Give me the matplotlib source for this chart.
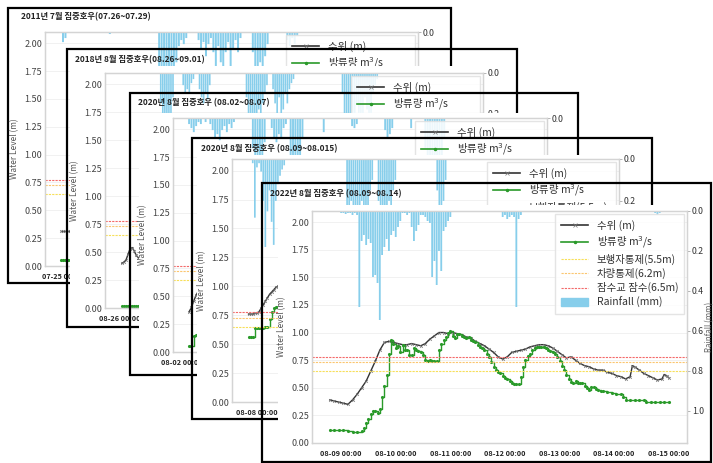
import numpy as np
import matplotlib
matplotlib.use('Agg')
import matplotlib.pyplot as plt
import matplotlib.dates as mdates
from matplotlib.patches import Rectangle, Patch
from matplotlib.lines import Line2D
from matplotlib.ticker import FormatStrFormatter

plt.rcParams['font.family'] = ['Noto Sans CJK KR', 'DejaVu Sans']

W, H = 713, 463

# ---------- 2011.07 event
c1_title = '2011년 7월 집중호우(07.26~07.29)'
c1_base = '2011-07-25T00:00'
c1_xlim = (-7.3, 144.0)
c1_level_h = [-1, 0, 1, 2, 3]
c1_level = [0.31, 0.31, 0.31, 0.31, 0.31]
c1_flow_h = [-1, 0, 1, 2, 3]
c1_flow = [0.05, 0.05, 0.05, 0.05, 0.05]
c1_rain_h = [0, 1, 19, 39, 40, 41, 42, 43, 44, 45, 46, 47, 48, 49, 50,
             55, 56, 57, 58, 59, 60, 61, 62, 63, 64, 65, 66, 67, 68, 69, 70, 71, 72,
             77, 78, 79, 80, 81, 82, 83, 91, 92, 93, 94, 95]
c1_rain = [0.05, 0.03, 0.01, 0.25, 0.3, 0.2, 0.35, 0.25, 0.3, 0.2, 0.15, 0.07, 0.04, 0.06, 0.03,
           0.04, 0.08, 0.05, 0.12, 0.06, 0.03, 0.1, 0.2, 0.07, 0.15, 0.25, 0.1, 0.05, 0.18, 0.08, 0.04, 0.1, 0.03,
           0.1, 0.2, 0.3, 0.15, 0.25, 0.12, 0.06, 0.04, 0.07, 0.03, 0.06, 0.02]

# ---------- 2018.08 event
c2_title = '2018년 8월 집중호우(08.26~09.01)'
c2_base = '2018-08-26T00:00'
c2_xlim = (-7.3, 177.8)
c2_level_h = [1, 2, 3, 4, 5, 6, 7, 8, 9]
c2_level = [0.40, 0.41, 0.43, 0.48, 0.53, 0.54, 0.51, 0.47, 0.45]
c2_flow_h = [1, 2, 3, 4, 5, 6, 7, 8, 9]
c2_flow = [0.02, 0.02, 0.02, 0.02, 0.02, 0.02, 0.02, 0.02, 0.02]
c2_rain_h = [20, 21, 22, 23, 24, 25, 26, 31, 32, 33, 34, 35, 36, 39, 40, 41, 42, 43, 44,
             62, 63, 64, 65, 66, 67, 68, 69, 70, 71, 72, 75, 76, 77, 78, 79, 80, 81, 82, 83, 84, 85,
             109, 110, 111, 112, 113, 114, 115, 116, 117, 118, 119, 120, 121, 122, 123, 124, 125, 126]
c2_rain = [0.15, 0.25, 0.3, 0.2, 0.28, 0.22, 0.12, 0.06, 0.1, 0.08, 0.1, 0.05, 0.03, 0.08, 0.12, 0.15, 0.1, 0.13, 0.06,
           0.12, 0.2, 0.28, 0.22, 0.3, 0.25, 0.18, 0.22, 0.15, 0.1, 0.06, 0.08, 0.15, 0.2, 0.12, 0.25, 0.18, 0.1, 0.15, 0.08, 0.05, 0.03,
           0.1, 0.2, 0.25, 0.3, 0.2, 0.28, 0.22, 0.15, 0.25, 0.3, 0.2, 0.12, 0.18, 0.25, 0.2, 0.1, 0.06, 0.03]

# ---------- 2020.08 event (1)
c3_title = '2020년 8월 집중호우 (08.02~08.07)'
c3_base = '2020-08-02T00:00'
c3_xlim = (-3.8, 154.5)
c3_level_h = [3, 4, 5, 6, 7, 8]
c3_level = [0.36, 0.40, 0.46, 0.51, 0.55, 0.58]
c3_flow_h = [3, 4, 5, 6, 7, 8]
c3_flow = [0.05, 0.05, 0.14, 0.15, 0.15, 0.15]
c3_rain_h = [3, 4, 5, 6, 7, 8, 10, 12, 13, 14, 15, 16, 17, 18, 19, 20, 21, 22,
             30, 31, 32, 33, 34, 35, 38, 39, 40, 41, 42, 43, 44, 46, 47, 48, 49, 50, 51,
             60, 72, 73, 74, 86, 87, 88, 89, 97, 103, 104, 105, 106, 107, 108, 109, 110, 111]
c3_rain = [0.03, 0.05, 0.07, 0.04, 0.02, 0.03, 0.02, 0.03, 0.06, 0.1, 0.08, 0.11, 0.06, 0.04, 0.07, 0.03, 0.05, 0.02,
           0.15, 0.25, 0.3, 0.22, 0.28, 0.12, 0.05, 0.1, 0.12, 0.08, 0.1, 0.05, 0.03, 0.2, 0.3, 0.25, 0.32, 0.2, 0.1,
           0.07, 0.04, 0.05, 0.03, 0.06, 0.1, 0.08, 0.05, 0.05, 0.15, 0.25, 0.3, 0.35, 0.3, 0.25, 0.3, 0.2, 0.1]

# ---------- 2020.08 event (2)
c4_title = '2020년 8월 집중호우 (08.09~08.015)'
c4_base = '2020-08-08T00:00'
c4_xlim = (-11.9, 172.7)
c4_level_h = [-4, -3, -2, -1, 0, 1, 2, 3, 4, 5, 6, 7, 8, 9, 10, 11, 12]
c4_level = [0.76, 0.76, 0.76, 0.765, 0.77, 0.78, 0.81, 0.84, 0.87, 0.90, 0.93, 0.95, 0.97, 0.99, 1.00, 1.02, 1.04]
c4_flow_h = [-4, -3, -2, -1, 0, 1, 2, 3, 4, 5, 6, 7, 8, 9, 10]
c4_flow = [0.56, 0.56, 0.56, 0.64, 0.64, 0.64, 0.64, 0.64, 0.65, 0.65, 0.72, 0.78, 0.81, 0.82, 0.82]
c4_rain_h = [-2, -1, 0, 1, 2, 3, 4, 5, 6, 7, 8, 9, 10, 11, 12, 13,
             43, 44, 45, 46, 47, 48, 49, 50, 51, 52, 53, 54, 55,
             58, 59, 60, 61, 62, 63, 64, 65, 66, 86, 87, 88, 89, 90]
c4_rain = [0.02, 0.28, 0.04, 0.02, 0.06, 0.2, 0.42, 0.25, 0.15, 0.3, 0.41, 0.2, 0.12, 0.08, 0.05, 0.03,
           0.25, 0.3, 0.2, 0.35, 0.3, 0.25, 0.3, 0.2, 0.28, 0.3, 0.22, 0.15, 0.1,
           0.2, 0.3, 0.35, 0.25, 0.3, 0.2, 0.28, 0.15, 0.1, 0.15, 0.3, 0.25, 0.2, 0.1]

# ---------- 2022.08 event
c5_title = '2022년 8월 집중호우 (08.09~08.14)'
c5_base = '2022-08-09T00:00'
c5_xlim = (-12.8, 152.0)
c5_level_h = [-5, -3, -1, 1, 3, 5, 7, 9, 11, 13, 15, 17, 19, 21, 23, 25, 27, 29, 31, 33, 35, 37, 39,
              41, 43, 45, 47, 49, 51, 53, 55, 57, 59, 61, 63, 65, 67, 69, 71, 73, 75, 77, 79, 81,
              83, 85, 87, 89, 91, 93, 95, 97, 99, 101, 103, 105, 107, 109, 111, 113, 115, 117, 119,
              121, 123, 125, 127, 128, 129, 131, 133, 135, 137, 139, 141, 142, 143, 144]
c5_level = [0.39, 0.38, 0.37, 0.36, 0.35, 0.39, 0.44, 0.50, 0.56, 0.65, 0.74, 0.84, 0.91, 0.92, 0.91,
            0.90, 0.89, 0.89, 0.90, 0.89, 0.88, 0.90, 0.94, 0.97, 1.00, 1.00, 0.99, 1.00, 0.99, 0.98,
            0.96, 0.95, 0.92, 0.90, 0.88, 0.85, 0.82, 0.78, 0.76, 0.78, 0.82, 0.83, 0.84, 0.85, 0.87,
            0.88, 0.89, 0.89, 0.88, 0.86, 0.83, 0.80, 0.77, 0.78, 0.75, 0.72, 0.70, 0.69, 0.67, 0.66,
            0.66, 0.64, 0.63, 0.61, 0.60, 0.58, 0.60, 0.70, 0.69, 0.66, 0.63, 0.61, 0.59, 0.57, 0.58,
            0.62, 0.61, 0.59]
c5_flow_h = [-5, -3, -1, 1, 3, 5, 7, 9, 10, 11, 12, 13, 14, 15, 16, 17, 18, 19, 20, 21, 22, 23, 24,
             25, 26, 27, 28, 29, 30, 31, 32, 33, 34, 35, 36, 37, 38, 39, 40, 41, 42, 43, 44, 45, 46,
             47, 48, 49, 50, 51, 52, 53, 54, 55, 56, 57, 58, 59, 60, 61, 62, 63, 64, 65, 66, 67, 68,
             69, 70, 71, 72, 73, 74, 75, 76, 77, 78, 79, 80, 81, 82, 83, 84, 85, 86, 87, 88, 89, 90,
             91, 92, 93, 94, 95, 96, 97, 98, 99, 100, 101, 102, 103, 104, 105, 106, 107, 108, 109,
             110, 111, 112, 113, 114, 115, 117, 119, 121, 123, 124, 125, 127, 129, 131, 133, 134,
             136, 138, 140, 142, 144]
c5_flow = [0.12, 0.12, 0.12, 0.12, 0.11, 0.10, 0.10, 0.11, 0.14, 0.18, 0.22, 0.26, 0.29, 0.29, 0.27,
           0.31, 0.42, 0.52, 0.62, 0.81, 0.93, 0.90, 0.86, 0.88, 0.82, 0.89, 0.84, 0.84, 0.80, 0.80,
           0.86, 0.84, 0.83, 0.82, 0.80, 0.75, 0.74, 0.75, 0.74, 0.74, 0.74, 0.84, 0.90, 0.93, 0.96,
           1.00, 1.01, 0.97, 0.95, 0.99, 0.99, 0.97, 0.96, 0.95, 0.96, 0.93, 0.92, 0.91, 0.89, 0.87,
           0.86, 0.84, 0.81, 0.78, 0.73, 0.69, 0.66, 0.64, 0.63, 0.61, 0.59, 0.58, 0.56, 0.54, 0.53,
           0.53, 0.53, 0.60, 0.69, 0.75, 0.79, 0.81, 0.84, 0.86, 0.87, 0.87, 0.87, 0.87, 0.86, 0.84,
           0.83, 0.82, 0.81, 0.78, 0.74, 0.70, 0.66, 0.62, 0.58, 0.55, 0.54, 0.56, 0.54, 0.54, 0.54,
           0.52, 0.50, 0.48, 0.51, 0.51, 0.49, 0.48, 0.47, 0.47, 0.46, 0.45, 0.44, 0.44, 0.42, 0.39,
           0.39, 0.39, 0.39, 0.39, 0.37, 0.37, 0.37, 0.37, 0.37, 0.37]
c5_rain_h = [0, 1, 2, 3, 4, 5, 6, 7, 8, 9, 10, 11, 12, 13, 14, 15, 16, 17, 18, 19, 20, 21, 22, 23,
             24, 25, 26, 27, 28, 29, 30, 31, 32, 33, 34, 35, 36, 37, 38, 39, 40, 41, 42, 43, 44, 45,
             46, 47, 48, 71, 72, 73, 74, 75, 76, 77, 78, 79, 138, 139, 140]
c5_rain = [0.01, 0.01, 0.015, 0.01, 0.01, 0.02, 0.01, 0.02, 0.48, 0.15, 0.12, 0.17, 0.14, 0.16, 0.33,
           0.32, 0.36, 0.545, 0.22, 0.18, 0.14, 0.2, 0.12, 0.1, 0.13, 0.08, 0.05, 0.01, 0.01, 0.02,
           0.01, 0.08, 0.15, 0.1, 0.07, 0.02, 0.02, 0.03, 0.05, 0.06, 0.33, 0.25, 0.37, 0.2, 0.3, 0.1,
           0.08, 0.05, 0.03, 0.03, 0.02, 0.04, 0.03, 0.02, 0.03, 0.48, 0.04, 0.02, 0.01, 0.02, 0.01]

# warning levels (same for every event)
warn_levels = [0.65, 0.73, 0.775]
warn_labels = ['보행자통제(5.5m)', '차량통제(6.2m)', '잠수교 잠수(6.5m)']
warn_colors = ['#f7df5a', '#fbc670', '#f36a6a']

# card frames, white chart area and axes box, in pixels (left, top, right, bottom)
frames = [(8, 8, 451, 283), (67, 49, 517, 327), (130, 93, 578, 375),
          (192, 138, 652, 419), (262, 183, 711, 462)]
panels = [(10, 24, 449, 281), (70, 66, 515, 325), (139, 113, 576, 373),
          (197, 155, 650, 417), (278, 205, 709, 460)]
axboxes = [(45, 32, 418, 266), (105, 73, 483, 308), (173, 118, 547, 352),
           (232, 159, 619, 402), (312, 211, 687, 443)]
title_pos = [(21, 17), (75, 60), (138, 103), (201, 149), (270, 194)]

events = [
    (c1_title, c1_base, c1_xlim, c1_level_h, c1_level, c1_flow_h, c1_flow, c1_rain_h, c1_rain),
    (c2_title, c2_base, c2_xlim, c2_level_h, c2_level, c2_flow_h, c2_flow, c2_rain_h, c2_rain),
    (c3_title, c3_base, c3_xlim, c3_level_h, c3_level, c3_flow_h, c3_flow, c3_rain_h, c3_rain),
    (c4_title, c4_base, c4_xlim, c4_level_h, c4_level, c4_flow_h, c4_flow, c4_rain_h, c4_rain),
    (c5_title, c5_base, c5_xlim, c5_level_h, c5_level, c5_flow_h, c5_flow, c5_rain_h, c5_rain),
]


def fig_rect(x0, y0, x1, y1):
    return [x0 / W, 1 - y1 / H, (x1 - x0) / W, (y1 - y0) / H]


def to_time(base, hours):
    mins = np.round(np.asarray(hours, dtype=float) * 60).astype('timedelta64[m]')
    return np.datetime64(base) + mins


fig = plt.figure(figsize=(W / 100, H / 100), dpi=100)

for i, ev in enumerate(events):
    title, base, xlim, lv_h, lv, fl_h, fl, rn_h, rn = ev
    z = 10 * (i + 1)

    # card outline + title
    l, b, w, h = fig_rect(*frames[i])
    fig.patches.append(Rectangle((l, b), w, h, transform=fig.transFigure, fill=False,
                                 ec='black', lw=1.6, zorder=z))
    tx, ty = title_pos[i]
    fig.text(tx / W, 1 - ty / H, title, fontsize=6, fontweight='bold', color='#222222',
             ha='left', va='center', zorder=z)

    # white chart area
    l, b, w, h = fig_rect(*panels[i])
    fig.patches.append(Rectangle((l, b), w, h, transform=fig.transFigure, fc='white',
                                 ec='none', zorder=z + 1))

    ax = fig.add_axes(fig_rect(*axboxes[i]))
    ax.set_zorder(z + 2)
    ax.set_facecolor('white')
    ax2 = ax.twinx()
    ax2.set_zorder(z + 3)

    # rainfall hangs from the top on an inverted axis
    ax2.bar(to_time(base, rn_h), rn, width=0.8 / 24, color='skyblue', ec='none',
            lw=0, snap=False)
    ax2.set_ylim(1.16, 0)
    ax2.set_yticks([0.0, 0.2, 0.4, 0.6, 0.8, 1.0])
    ax2.yaxis.set_major_formatter(FormatStrFormatter('%.1f'))
    ax2.tick_params(axis='y', labelsize=6.3, length=2.5, width=0.6, color='#aaaaaa',
                    labelcolor='#333333', pad=1)
    ax2.set_ylabel('Rainfall (mm)', fontsize=5.8, color='#666666', labelpad=1)

    ax.plot(to_time(base, lv_h), lv, color='#333333', lw=1.0, marker='x', ms=2,
            mew=0.5, mec='#777777')
    ax.plot(to_time(base, fl_h), fl, color='#2a9a2a', lw=1.0, marker='.', ms=2.5,
            drawstyle='steps-post')
    for lvl, c in zip(warn_levels, warn_colors):
        ax.axhline(lvl, color=c, lw=0.8, ls=(0, (2, 1)))

    ax.set_xlim(to_time(base, [xlim[0]])[0], to_time(base, [xlim[1]])[0])
    ax.set_ylim(0, 2.1)
    ax.set_yticks([0, 0.25, 0.5, 0.75, 1.0, 1.25, 1.5, 1.75, 2.0])
    ax.yaxis.set_major_formatter(FormatStrFormatter('%.2f'))
    ax.xaxis.set_major_locator(mdates.DayLocator())
    ax.xaxis.set_major_formatter(mdates.DateFormatter('%m-%d %H:%M'))
    ax.tick_params(axis='y', labelsize=6.5, length=0, labelcolor='#444444', pad=2)
    ax.tick_params(axis='x', labelsize=5.2, length=0, labelcolor='#222222', pad=5)
    for lab in ax.get_xticklabels():
        lab.set_fontweight('bold')
    ax.set_ylabel('Water Level (m)', fontsize=6, color='#555555', labelpad=4)
    ax.grid(axis='y', color='#efefef', lw=0.6)
    ax.set_axisbelow(True)
    for a in (ax, ax2):
        for s in a.spines.values():
            s.set_color('#d4d4d4')
            s.set_linewidth(0.9)

    handles = [
        Line2D([], [], color='#333333', lw=1.2, marker='x', ms=2.5, mew=0.5, mec='#777777'),
        Line2D([], [], color='#2a9a2a', lw=1.2, marker='.', ms=3),
    ] + [Line2D([], [], color=c, lw=0.8, ls=(0, (2, 1))) for c in warn_colors] + [
        Patch(color='skyblue')]
    labels = ['수위 (m)', '방류량 m$^3$/s'] + warn_labels + ['Rainfall (mm)']
    leg = ax2.legend(handles, labels, loc='upper right', fontsize=7.5, frameon=True,
                     edgecolor='#e0e0e0', framealpha=0.85, fancybox=False,
                     borderaxespad=0.3, handlelength=2.6, labelspacing=0.32,
                     borderpad=0.55, handletextpad=0.8)
    for t in leg.get_texts():
        t.set_color('#333333')

fig.savefig('out.png', dpi=100)
